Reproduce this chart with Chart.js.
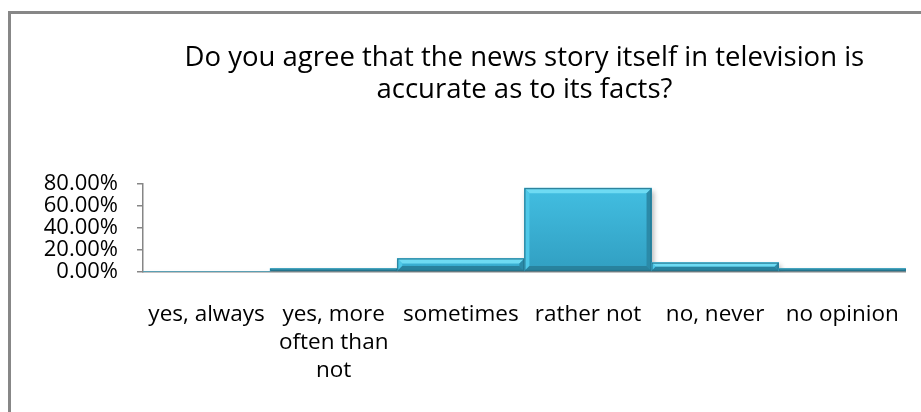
<!DOCTYPE html>
<html>
<head>
<meta charset="utf-8">
<script src="https://cdn.jsdelivr.net/npm/chart.js@4"></script>
<style>
    html, body { margin: 0; padding: 0; background: #fff; overflow: hidden; }
    #wrap { position: relative; width: 921px; height: 412px; }
    #frame {
        position: absolute; left: 8px; top: 11px; width: 1000px; height: 500px;
        border: 3px solid #878787; box-sizing: border-box;
    }
    #chart { position: absolute; left: 0; top: 0; }
</style>
</head>
<body>
<div id="wrap">
    <div id="frame"></div>
    <canvas id="chart" width="921" height="412"></canvas>
</div>
<script>
// Survey answers and share of respondents (%)
const answers = [
    'yes, always',
    ['yes, more', 'often than', 'not'],
    'sometimes',
    'rather not',
    'no, never',
    'no opinion'
];
const shares = [0, 2.8, 12, 76, 8.2, 2.8];
const percentTicks = [0, 20, 40, 60, 80];
const titleLines = [
    'Do you agree that the news story itself in television is',
    'accurate as to its facts?'
];

const FONT = "'Open Sans', 'Liberation Sans', sans-serif";

// Shadow under the bars, then a bevel on top of each one
const bevelBars = {
    id: 'bevelBars',
    beforeDatasetsDraw(chart) {
        const ctx = chart.ctx;
        ctx.save();
        ctx.shadowColor = 'rgba(0,0,0,0.28)';
        ctx.shadowBlur = 5;
        ctx.shadowOffsetX = 2;
        ctx.shadowOffsetY = 3;
    },
    afterDatasetsDraw(chart) {
        const ctx = chart.ctx;
        ctx.restore();
        const meta = chart.getDatasetMeta(0);
        meta.data.forEach(bar => {
            const { x, y, base, width } = bar.getProps(['x', 'y', 'base', 'width'], true);
            const h = base - y;
            if (h < 0.5) return;
            const l = x - width / 2, r = x + width / 2;
            const b = Math.min(5, h / 2, width / 2);
            ctx.save();
            // face gradient
            const g = ctx.createLinearGradient(0, y, 0, base);
            g.addColorStop(0, '#42bee1');
            g.addColorStop(1, '#319fc2');
            ctx.fillStyle = g;
            ctx.fillRect(l, y, width, h);
            // top bevel
            ctx.fillStyle = '#6edbf3';
            ctx.beginPath();
            ctx.moveTo(l, y); ctx.lineTo(r, y); ctx.lineTo(r - b, y + b); ctx.lineTo(l + b, y + b);
            ctx.closePath(); ctx.fill();
            // left bevel
            ctx.fillStyle = '#4ec8e8';
            ctx.beginPath();
            ctx.moveTo(l, y); ctx.lineTo(l + b, y + b); ctx.lineTo(l + b, base - b); ctx.lineTo(l, base);
            ctx.closePath(); ctx.fill();
            // right bevel
            ctx.fillStyle = '#2b8aa8';
            ctx.beginPath();
            ctx.moveTo(r, y); ctx.lineTo(r - b, y + b); ctx.lineTo(r - b, base - b); ctx.lineTo(r, base);
            ctx.closePath(); ctx.fill();
            // bottom bevel
            ctx.fillStyle = '#28829e';
            ctx.beginPath();
            ctx.moveTo(l, base); ctx.lineTo(l + b, base - b); ctx.lineTo(r - b, base - b); ctx.lineTo(r, base);
            ctx.closePath(); ctx.fill();
            // thin outline
            ctx.strokeStyle = '#23728b';
            ctx.lineWidth = 1;
            ctx.strokeRect(l + 0.5, y + 0.5, width - 1, h - 1);
            ctx.restore();
        });
    }
};

new Chart(document.getElementById('chart'), {
    type: 'bar',
    data: {
        labels: answers,
        datasets: [{
            data: shares,
            backgroundColor: '#3ab4d8',
            borderWidth: 0,
            categoryPercentage: 1,
            barPercentage: 1
        }]
    },
    options: {
        responsive: false,
        animation: false,
        layout: { padding: { left: 10, right: 14, top: 0, bottom: 6 } },
        plugins: {
            legend: { display: false },
            tooltip: { enabled: false },
            title: {
                display: true,
                text: titleLines,
                fullSize: false,
                color: '#000',
                font: { family: FONT, size: 27.5, weight: 'normal', lineHeight: 1.16 },
                padding: { top: 42, bottom: 78 }
            }
        },
        scales: {
            x: {
                grid: { display: false },
                border: { display: true, color: '#868686', width: 1.5 },
                ticks: {
                    color: '#000',
                    maxRotation: 0,
                    autoSkip: false,
                    padding: 21,
                    font: { family: FONT, size: 22.5, lineHeight: 1.25 }
                }
            },
            y: {
                min: percentTicks[0],
                max: percentTicks[percentTicks.length - 1],
                afterFit(scale) { scale.width = 133; },
                afterBuildTicks(scale) {
                    scale.ticks = percentTicks.map(v => ({ value: v }));
                },
                grid: {
                    drawOnChartArea: false,
                    drawTicks: true,
                    tickLength: 6,
                    color: '#868686',
                    lineWidth: 1.5
                },
                border: { display: true, color: '#868686', width: 1.5 },
                ticks: {
                    color: '#000',
                    padding: 19,
                    autoSkip: false,
                    font: { family: FONT, size: 22 },
                    callback: v => v.toFixed(2) + '%'
                }
            }
        }
    },
    plugins: [bevelBars]
});
</script>
</body>
</html>
